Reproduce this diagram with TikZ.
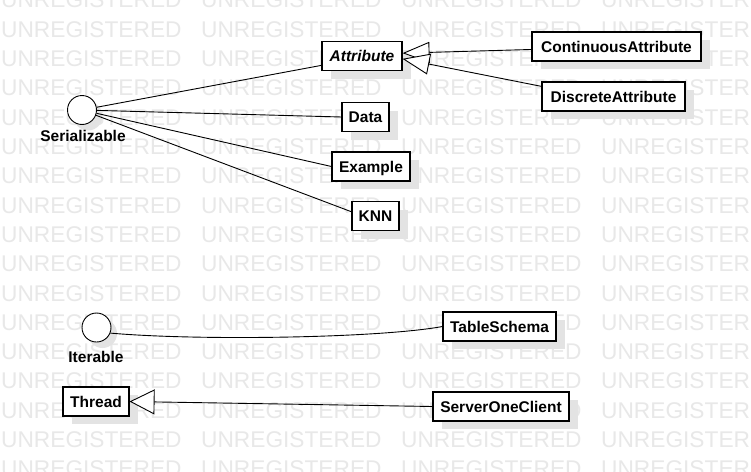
\documentclass[tikz,border=0pt]{standalone}
\usepackage{fontspec}
\setmainfont{Liberation Sans}
\usetikzlibrary{arrows.meta,shadows}
\begin{document}
\begin{tikzpicture}[x=1pt,y=-1pt,
  boxfont/.style={font=\fontsize{15.5}{18}\selectfont\bfseries},
  cls/.style={boxfont, draw, line width=1.1pt, fill=white, inner sep=0pt,
    minimum height=29pt, text height=12pt, text depth=1pt,
    general shadow={fill=black!11, shadow xshift=9pt, shadow yshift=-8pt}},
  iface/.style={circle, draw, line width=0.9pt, fill=white, inner sep=0pt,
    minimum size=29pt,
    general shadow={fill=black!11, shadow xshift=6pt, shadow yshift=-6pt}},
  lbl/.style={boxfont, inner sep=0pt},
  link/.style={line width=0.9pt},
  gen/.style={link, -{Triangle[length=27pt,width=21pt,fill=white,line width=0.9pt]}},
  genwide/.style={link, -{Triangle[length=25pt,width=25pt,fill=white,line width=0.9pt]}},
  wm/.style={font=\fontsize{22.7}{24}\selectfont, text=black!9, inner sep=0pt, anchor=base west}
]
\useasboundingbox (0,0) rectangle (751,471);
\fill[white] (0,0) rectangle (751,471);

% background watermark rows
\foreach \j in {0,...,16}{
  \foreach \k in {0,...,3}{
    \node[wm] (wm-\j-\k) at ({200*\k+1},{8+29.3*\j}) {UNREGISTERED};
  }
}

% interfaces
\node[iface] (ser) at (82,110) {};
\node[lbl] (serlbl) at (83,135.5) {Serializable};
\node[iface] (iter) at (96.5,327.5) {};
\node[lbl] (iterlbl) at (96,356.5) {Iterable};

% classes
\node[cls, minimum width=80pt, font=\fontsize{15.5}{18}\selectfont\bfseries\itshape] (attr) at (362,56) {Attribute};
\node[cls, minimum width=169pt] (cont) at (616.5,46.5) {ContinuousAttribute};
\node[cls, minimum width=143pt] (disc) at (613.5,96.5) {DiscreteAttribute};
\node[cls, minimum width=47pt] (data) at (365.5,117) {Data};
\node[cls, minimum width=78pt] (ex) at (371,166.5) {Example};
\node[cls, minimum width=47pt] (knn) at (375.5,216) {KNN};
\node[cls, minimum width=113pt] (tab) at (499.5,326.5) {TableSchema};
\node[cls, minimum width=136pt] (soc) at (501,406.5) {ServerOneClient};
\node[cls, minimum width=66pt] (thr) at (96,401.5) {Thread};

% realizations
\draw[link] (ser) -- (attr.193);
\draw[link] (ser) -- (data.west);
\draw[link] (ser) -- (ex.west);
\draw[link] (ser) -- (knn.170);
\draw[link] (iter.-22) .. controls (200,341) and (380,338) .. (tab.west);

% generalizations
\draw[gen] (cont.182) -- (attr.4);
\draw[gen] (disc.172) -- (attr.-4);
\draw[genwide] (soc.west) -- (thr.east);
\end{tikzpicture}
\end{document}
